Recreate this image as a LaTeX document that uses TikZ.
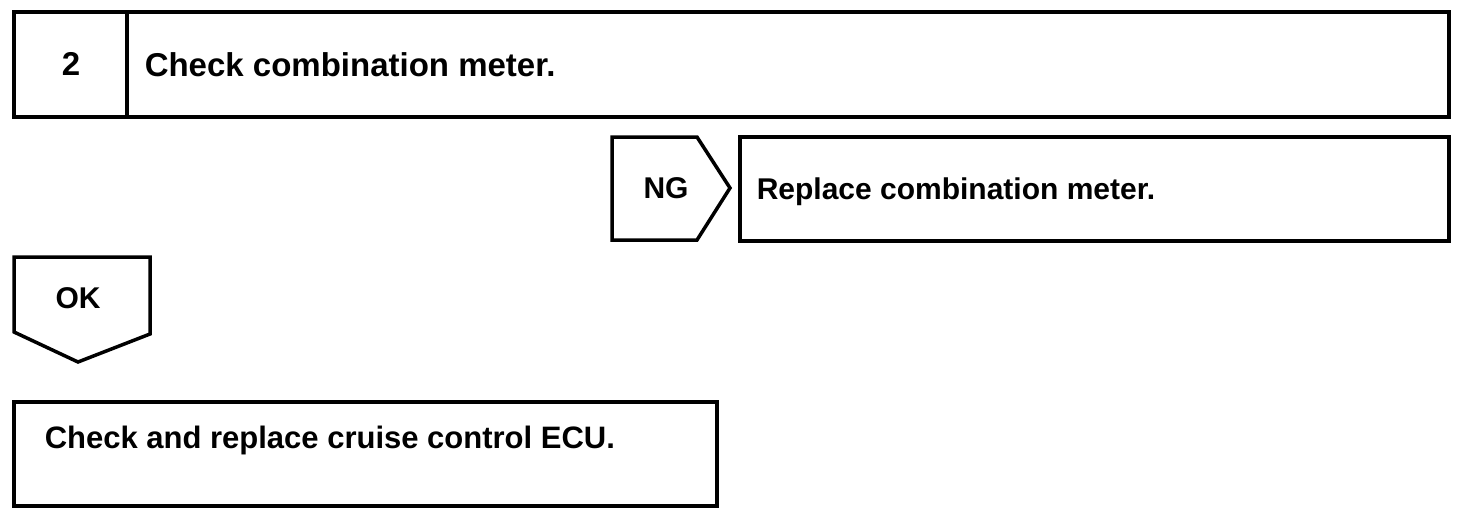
\documentclass[tikz,border=0pt]{standalone}
\usepackage{fontspec}
\setmainfont{Liberation Sans}
\begin{document}
\begin{tikzpicture}[x=1pt,y=-1pt,line width=3.5pt,line join=miter,
  lbl/.style={font=\bfseries\fontsize{30}{36}\selectfont,inner sep=0pt},
  big/.style={font=\bfseries\fontsize{33}{40}\selectfont,inner sep=0pt},
  txt/.style={lbl,anchor=base west}]
\useasboundingbox (0,0) rectangle (1472,514);
% step header
\draw (14,12) rectangle (1449,117);
\draw (127,12) -- (127,117);
\node[big] (num) at (71,64) {2};
\node[big,anchor=base west] (hdr) at (143,76) {Check combination meter.};
% NG branch
\draw (612,137) -- (697,137) -- (730,188) -- (697,240) -- (612,240) -- cycle;
\node[lbl] (ng) at (666,188) {NG};
\draw (740,137) rectangle (1449,241);
\node[txt] (rep) at (755,199) {Replace combination meter.};
% OK branch
\draw (14,257) -- (150,257) -- (150,334) -- (78,362) -- (14,332) -- cycle;
\node[lbl] (ok) at (78,298) {OK};
\draw (14,402) rectangle (717,506);
\node[txt,font=\bfseries\fontsize{31}{37}\selectfont] (ecu) at (43,448) {Check and replace cruise control ECU.};
\end{tikzpicture}
\end{document}
